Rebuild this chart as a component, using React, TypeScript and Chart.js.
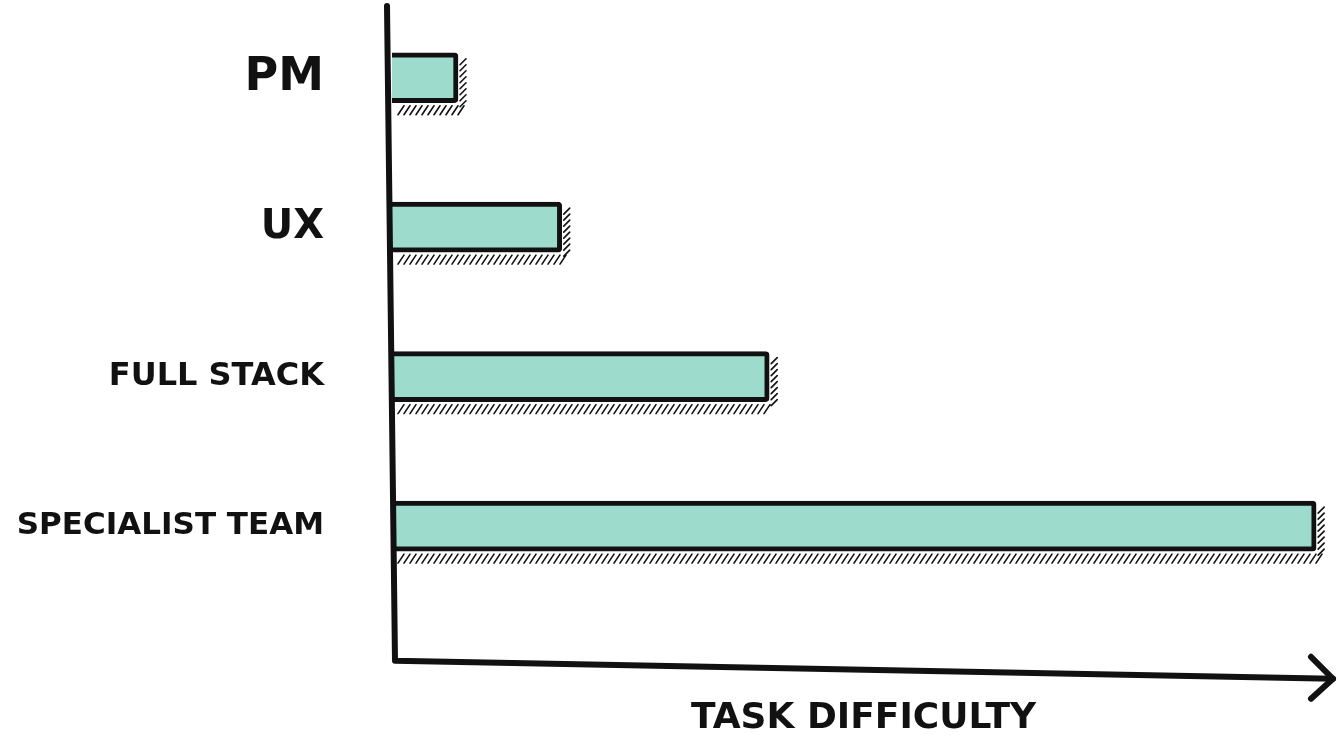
import React, { useEffect, useRef } from "react";
import { Chart, registerables } from "chart.js";

Chart.register(...registerables);

const categories = ["PM", "UX", "FULL STACK", "SPECIALIST TEAM"];
const difficulty = [7, 18, 40, 98];
const labelSizes = [46, 40, 32, 31];
const axisTitle = "TASK DIFFICULTY";

const INK = "#111111";
const FILL = "#9ddbcc";

const sketchPlugin = {
  id: "sketch",
  afterDatasetsDraw(chart: any) {
    const { ctx, chartArea } = chart;
    const meta = chart.getDatasetMeta(0);
    ctx.save();
    // hatching under and right of each bar
    ctx.strokeStyle = INK;
    ctx.lineWidth = 1.6;
    ctx.lineCap = "round";
    meta.data.forEach((bar: any) => {
      const { x, y, base, height } = bar.getProps(["x", "y", "base", "height"], true);
      const yb = y + height / 2 + 3;
      ctx.beginPath();
      for (let px = base + 6; px < x; px += 6) {
        ctx.moveTo(px, yb + 9);
        ctx.lineTo(px + 6, yb);
      }
      for (let py = y - height / 2 + 6; py < y + height / 2; py += 6) {
        ctx.moveTo(x + 2, py + 6);
        ctx.lineTo(x + 8, py);
      }
      ctx.stroke();
    });
    // axes
    ctx.strokeStyle = INK;
    ctx.lineWidth = 6;
    ctx.lineCap = "round";
    ctx.lineJoin = "round";
    const left = chartArea.left;
    const axisY = chartArea.bottom + 60;
    ctx.beginPath();
    ctx.moveTo(left - 5, chartArea.top + 3);
    ctx.lineTo(left + 3, axisY);
    ctx.lineTo(chartArea.right - 2, axisY + 18);
    ctx.stroke();
    const ax = chartArea.right - 2;
    const ay = axisY + 18;
    ctx.beginPath();
    ctx.moveTo(ax - 22, ay - 22);
    ctx.lineTo(ax, ay);
    ctx.lineTo(ax - 22, ay + 20);
    ctx.stroke();
    ctx.restore();
  },
};

export default function App() {
  const ref = useRef<HTMLCanvasElement | null>(null);
  useEffect(() => {
    document.body.style.margin = "0";
    if (!ref.current) return;
    const chart = new Chart(ref.current, {
      type: "bar",
      data: {
        labels: categories,
        datasets: [
          {
            data: difficulty,
            backgroundColor: FILL,
            borderColor: INK,
            borderWidth: 5,
            borderRadius: 4,
            borderSkipped: "start",
            barThickness: 50,
          },
        ],
      },
      plugins: [sketchPlugin],
      options: {
        indexAxis: "y",
        animation: false,
        responsive: true,
        maintainAspectRatio: false,
        layout: { padding: { top: 3, right: 3, left: 0, bottom: 0 } },
        plugins: { legend: { display: false }, tooltip: { enabled: false } },
        scales: {
          x: {
            min: 0,
            max: 100,
            grid: { display: false },
            border: { display: false },
            ticks: { display: false },
            title: {
              display: true,
              text: axisTitle,
              color: INK,
              font: { family: "'DejaVu Sans', sans-serif", size: 36, weight: "bold" },
              padding: { top: 88, bottom: 5 },
            },
          },
          y: {
            grid: { display: false },
            border: { display: false },
            afterFit: (scale: any) => {
              scale.width = 392;
              scale.paddingTop = 0;
              scale.paddingBottom = 0;
            },
            ticks: {
              padding: 60,
              color: INK,
              font: (ctx: any) => ({
                family: "'DejaVu Sans', sans-serif",
                size: labelSizes[ctx.index] ?? 30,
                weight: "bold",
              }),
            },
          },
        },
      },
    } as any);
    return () => chart.destroy();
  }, []);
  return (
    <div style={{ width: 1338, height: 745, position: "relative", background: "#fff" }}>
      <canvas ref={ref} />
    </div>
  );
}
